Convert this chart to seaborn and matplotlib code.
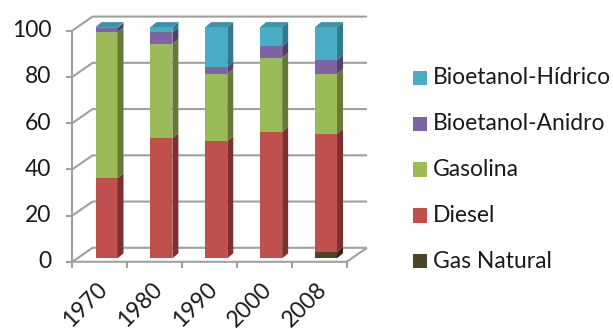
import numpy as np
import matplotlib
matplotlib.use("Agg")
import matplotlib.pyplot as plt
import matplotlib.transforms as mtransforms
from matplotlib.patches import Polygon, Rectangle
import seaborn as sns

# Share of each fuel in the transport energy mix (%)
years = ["1970", "1980", "1990", "2000", "2008"]
gas_natural = [0.0, 0.0, 0.0, 0.0, 2.8]
diesel = [34.7, 52.0, 50.7, 54.7, 51.0]
gasolina = [63.0, 40.7, 29.1, 32.0, 26.0]
bioetanol_anidro = [1.9, 5.0, 3.0, 5.0, 6.0]
bioetanol_hidrico = [0.4, 2.3, 17.2, 8.3, 14.2]
y_ticks = [0, 20, 40, 60, 80, 100]

series_names = ["Gas Natural", "Diesel", "Gasolina", "Bioetanol-Anidro", "Bioetanol-Hídrico"]
series_values = [gas_natural, diesel, gasolina, bioetanol_anidro, bioetanol_hidrico]
front_colors = ["#4A4528", "#C0504D", "#9BBB59", "#8064A2", "#4BACC6"]
side_colors = ["#2E2A17", "#7E302E", "#657A39", "#54406E", "#2F7A8E"]
top_colors = ["#3B3720", "#9A3E3B", "#7E9A47", "#6A528A", "#3A93AB"]

sns.set_theme(style="white")
plt.rcParams["font.family"] = ["Lato", "DejaVu Sans"]
TEXT = "#1a1a1a"
FS = 16.5

W, H = 613, 329
fig = plt.figure(figsize=(W / 100, H / 100), dpi=100)
fig.patch.set_facecolor("white")
ax = fig.add_axes([72.3 / W, (H - 261.8) / H, 274.4 / W, 231.2 / H])

# depth of the 3-D box (data units) and of each column
DX, DY = 0.37, 6.06
SX, SY = 0.109, 2.16
BAR_W = 0.4

# walls, floor and axis lines
grid_kw = dict(color="#A0A0A0", lw=1.5, solid_capstyle="butt", clip_on=False, zorder=1)
for t in y_ticks:
    ax.plot([-0.5, -0.5 + DX, 4.5 + DX], [t, t + DY, t + DY], **grid_kw)
    ax.plot([-0.5 - 0.109, -0.5], [t, t], **grid_kw)
ax.plot([-0.5, -0.5], [0, 100], **grid_kw)
ax.plot([-0.5, 4.5, 4.5 + DX], [0, 0, DY], **grid_kw)
for b in np.arange(-0.5, 5.0, 1.0):
    ax.plot([b, b], [0, -2.6], **grid_kw)

# stacked front faces: draw cumulative totals from the top series down
stacked = np.cumsum(np.array(series_values), axis=0)
for k in reversed(range(len(series_names))):
    sns.barplot(x=years, y=stacked[k], color=front_colors[k], saturation=1,
                width=BAR_W, linewidth=0, ax=ax, zorder=3)

# columns sit halfway into the box
bar_tr = ax.transData + mtransforms.ScaledTranslation(6.8 / 100, 3.5 / 100, fig.dpi_scale_trans)
for p in ax.patches:
    p.set_transform(bar_tr)
    p.set_clip_on(False)

# side and top faces of the columns
for i in range(len(years)):
    bottom = 0.0
    top_k = 0
    xr = i + BAR_W / 2
    xl = i - BAR_W / 2
    for k, vals in enumerate(series_values):
        h = vals[i]
        if h <= 0:
            continue
        ax.add_patch(Polygon([(xr, bottom), (xr + SX, bottom + SY),
                              (xr + SX, bottom + h + SY), (xr, bottom + h)],
                             closed=True, fc=side_colors[k], ec="none",
                             transform=bar_tr, zorder=3, clip_on=False))
        bottom += h
        top_k = k
    ax.add_patch(Polygon([(xl, bottom), (xl + SX, bottom + SY),
                          (xr + SX, bottom + SY), (xr, bottom)],
                         closed=True, fc=top_colors[top_k], ec="none",
                         transform=bar_tr, zorder=3, clip_on=False))

# tick labels
ylab_tr = ax.transData + mtransforms.ScaledTranslation(-21 / 100, 0, fig.dpi_scale_trans)
for t in y_ticks:
    ax.text(-0.5, t, str(t), transform=ylab_tr, ha="right", va="center",
            fontsize=FS, color=TEXT)
for i, yr in enumerate(years):
    ax.annotate(yr, xy=(i, 0), xytext=(-3, -17), textcoords="offset pixels",
                ha="right", va="top", rotation=45, rotation_mode="anchor",
                fontsize=FS, color=TEXT, annotation_clip=False)

ax.set_xlim(-0.5, 4.5)
ax.set_ylim(0, 100)
ax.axis("off")

# legend, top entry first
row_y = [77.8, 123.8, 169.7, 215.3, 261.0]
SQ = 14.6
for j, k in enumerate(reversed(range(len(series_names)))):
    yc = row_y[j]
    fig.add_artist(Rectangle((412.7 / W, (H - yc - SQ / 2) / H), SQ / W, SQ / H,
                             transform=fig.transFigure, fc=front_colors[k], ec="none"))
    fig.text(433 / W, (H - yc) / H, series_names[k], ha="left", va="center",
             fontsize=FS, color=TEXT)

fig.savefig("out.png", dpi=100, facecolor="white")
